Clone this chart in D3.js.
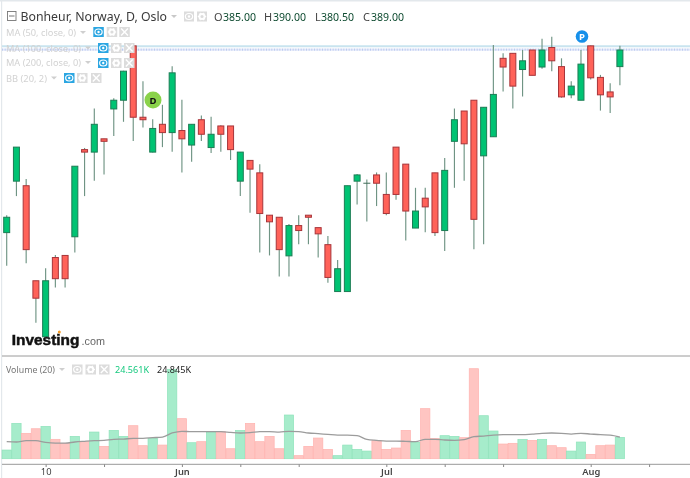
<!DOCTYPE html>
<html><head><meta charset="utf-8">
<script src="https://cdn.jsdelivr.net/npm/d3@7/dist/d3.min.js"></script>
<style>html,body{margin:0;padding:0;background:#fff;overflow:hidden}svg{display:block;filter:blur(0.3px)}</style>
</head><body><svg id="c" width="690" height="478"></svg>
<script>
const opens =[345,357.4,356.3,333.4,319.9,339,339.5,344,365,364.4,367.6,374.8,376.9,390,372.8,364.4,371.1,369.1,369.6,366.1,372.2,365.5,370.7,370.7,357.4,362.4,359.4,349.2,348.7,339.4,346.7,349.2,346.2,342.1,330.8,330.8,357.4,356.9,358.9,354.2,365.6,361.5,346.1,353.3,359.4,345.5,367,374.3,376.9,363.5,368.1,387,388.2,384.3,389,384.9,389.6,385,378.2,376.9,390,382.4,378.9,385];
const highs =[349.2,365.6,357.9,333.4,336.4,339.6,339.6,361,365.4,374.9,367.6,377.4,384,390.1,381.5,372.3,375.8,385.1,377,371.1,373.2,372.9,370.9,370.7,364.4,362.5,361.5,349.2,348.7,347.1,349.2,349.2,346.2,344.2,338.4,356.3,359.1,357.8,359.5,359.5,365.6,361.5,355.8,355.8,359.4,363,374.9,374.3,376.9,375.2,390.2,388.2,388.2,389,389,391.7,392.2,387,381.5,389,390.1,383,381,390];
const lows  =[337,353.8,337.6,323.3,319.9,331.8,331.8,340.2,353.8,357.5,359,368.3,371.7,367.1,370.3,364.3,365.6,364.5,359.5,362.1,367.1,364.2,364.5,362.5,353.8,349.8,340.2,339.5,334.4,334.4,342.2,342.2,339,332.9,330.8,330.8,351.8,347.7,351.4,349.2,352.9,343.1,346.1,345.1,344.2,340.6,355.8,357.5,341,342.2,368.1,379,374.9,377.8,382.9,384.5,383.9,377.5,377.4,376.9,381.9,374.4,373.8,380.5];
const closes=[348.7,365.6,340.9,329.2,333.4,333.9,333.9,361,364.4,371.1,367,376.9,383.9,372.8,372.2,370.1,369.1,383.5,367.6,371.1,368.7,368.7,368.7,365,364.4,360.3,349.6,347.6,340.9,346.7,345.5,348.7,344.7,334.2,336.3,356.3,358.9,356.9,356.9,349.6,354.2,350.2,350.2,351.2,345,360,372.2,366.4,348.2,375.2,378.3,384.9,380.3,386.4,382.9,389,386.4,377.7,380.3,385.6,382.3,378.2,377.7,389];
const volumes=[10,40.7,29.2,34.5,37.2,22.3,17.7,25.7,19.6,30.7,14.2,32.6,25.7,38,15,23.4,15.7,102.9,46.1,18.4,19.6,30.3,31.1,11.5,32.6,40.7,19.6,25.7,11.5,50.3,3.5,14.2,23.8,10.7,3.5,15.7,10.7,8.8,20.7,10.7,12.3,32.6,18.8,57.6,23.4,26.5,25.7,24.2,103.6,49.5,31.9,16.9,17.7,22.3,21.1,22.3,15,12.7,8.8,19.2,5,15,15.7,24.56];
const volumeMA=[19.6,19.2,20.7,20.7,18.8,18,18,19.2,20,20.7,21.1,22.3,22.6,23.4,23.4,24.2,24.9,29.6,31.5,31.1,31.1,31.1,31.1,30.3,29.6,29.9,31.1,31.1,30.7,31.5,31.1,29.6,28.8,28,27.2,27.2,26.5,22.3,21.1,20.3,20.3,20,19.6,22.3,22.3,21.5,21.1,21.9,25.3,26.1,27.2,27.6,27.6,27.6,28.4,29.2,29.6,29.2,28.4,29.2,28.4,27.6,27.2,24.85];
const tickIndex=[4,10,18,24,30,39,45,51,60,66];
const tickLabels=["10","","Jun","","","Jul","","","Aug",""];
const refLevels=[390,389.2];
const indicatorNames=["MA (50, close, 0)","MA (100, close, 0)","MA (200, close, 0)","BB (20, 2)"];

const svg=d3.select("#c");
const sans='"Noto Sans",sans-serif';
const x=d3.scaleLinear().domain([0,63]).range([6.7,619.9]);
const y=d3.scaleLinear().domain([401.05,315.27]).range([0,356]);
const yV=d3.scaleLinear().domain([0,103.6]).range([458.7,368.7]);
const GREEN="#00c373",RED="#ff6259",GEDGE="#1c7d55",REDGE="#a8353a",WICK="#6f9484";

// frame
svg.append("rect").attr("x",0).attr("y",0).attr("width",690).attr("height",1.5).attr("fill","#e3e8ec");
svg.append("rect").attr("x",1).attr("y",0).attr("width",1.2).attr("height",478).attr("fill","#e3e8ec");

// reference lines
svg.append("line").attr("x1",2).attr("x2",690).attr("y1",y(refLevels[0])+0.4).attr("y2",y(refLevels[0])+0.4).attr("stroke","#c9e4ef").attr("stroke-width",2);
svg.append("line").attr("x1",2).attr("x2",690).attr("y1",y(refLevels[1])+0.4).attr("y2",y(refLevels[1])+0.4).attr("stroke","#bccaf0").attr("stroke-width",2.2).attr("stroke-dasharray","1 0.6");

// candles
const idx=d3.range(opens.length);
svg.append("g").selectAll("line").data(idx).join("line")
 .attr("x1",i=>x(i)).attr("x2",i=>x(i))
 .attr("y1",i=>y(highs[i])).attr("y2",i=>y(lows[i]))
 .attr("stroke",WICK).attr("stroke-width",1.15);
const bw=6;
svg.append("g").selectAll("rect").data(idx.filter(i=>Math.abs(opens[i]-closes[i])>0.01)).join("rect")
 .attr("x",i=>x(i)-bw/2)
 .attr("y",i=>y(Math.max(opens[i],closes[i])))
 .attr("width",bw)
 .attr("height",i=>Math.abs(y(opens[i])-y(closes[i])))
 .attr("fill",i=>closes[i]>=opens[i]?GREEN:RED)
 .attr("stroke",i=>closes[i]>=opens[i]?GEDGE:REDGE).attr("stroke-width",1);
svg.append("g").selectAll("line").data(idx.filter(i=>Math.abs(opens[i]-closes[i])<=0.01)).join("line")
 .attr("x1",i=>x(i)-3.5).attr("x2",i=>x(i)+3.5)
 .attr("y1",i=>y(opens[i])).attr("y2",i=>y(opens[i])).attr("stroke","#3f6b58");

// pins
svg.append("circle").attr("cx",153).attr("cy",100).attr("r",8.5).attr("fill","#8ad24a");
svg.append("text").attr("x",153).attr("y",103.5).attr("text-anchor","middle").attr("font-family",sans).attr("font-weight",700).attr("font-size",9.5).attr("fill","#111").text("D");
svg.append("circle").attr("cx",582).attr("cy",36.5).attr("r",6.3).attr("fill","#1690ea");
svg.append("text").attr("x",582).attr("y",40).attr("text-anchor","middle").attr("font-family",sans).attr("font-weight",700).attr("font-size",9.5).attr("fill","#fff").text("P");

// icon helper
function icon(g,ix,iy,w,kind,bg){
 g.append("rect").attr("x",ix).attr("y",iy).attr("width",w).attr("height",10).attr("fill",bg);
 const cx=ix+w/2,cy=iy+5;
 if(kind==="eye"){
  g.append("ellipse").attr("cx",cx).attr("cy",cy).attr("rx",3.6).attr("ry",3).attr("fill","none").attr("stroke","#fff").attr("stroke-width",1.2);
  g.append("circle").attr("cx",cx).attr("cy",cy).attr("r",1.2).attr("fill","#fff");
 } else if(kind==="gear"){
  g.append("circle").attr("cx",cx).attr("cy",cy).attr("r",2.6).attr("fill","none").attr("stroke","#fff").attr("stroke-width",2);
  d3.range(6).forEach(k=>{const a=k*Math.PI/3;
   g.append("line").attr("x1",cx+2.8*Math.cos(a)).attr("y1",cy+2.8*Math.sin(a)).attr("x2",cx+4.2*Math.cos(a)).attr("y2",cy+4.2*Math.sin(a)).attr("stroke","#fff").attr("stroke-width",1.2);});
 } else {
  g.append("path").attr("d",`M${cx-3.4},${cy-3.4}L${cx+3.4},${cy+3.4}M${cx+3.4},${cy-3.4}L${cx-3.4},${cy+3.4}`).attr("stroke","#fff").attr("stroke-width",1.4);
 }
}
function tri(g,tx,ty,col){g.append("path").attr("d",`M${tx},${ty}h6l-3,3z`).attr("fill",col);}
function label(g,tx,ty,size,col,str,len){
 const t=g.append("text").attr("x",tx).attr("y",ty).attr("font-family",sans).attr("font-size",size).attr("fill",col).text(str);
 if(len) t.attr("textLength",len).attr("lengthAdjust","spacingAndGlyphs");
 return t;
}

// header
const h=svg.append("g");
h.append("rect").attr("x",7.5).attr("y",11.5).attr("width",8.5).attr("height",9).attr("fill","none").attr("stroke","#777").attr("stroke-width",0.9);
h.append("line").attr("x1",9).attr("x2",14.5).attr("y1",16).attr("y2",16).attr("stroke","#777");
label(h,20.5,20.8,13,"#3a3a3a","Bonheur, Norway, D, Oslo",146.5);
tri(h,171,15,"#c8c8c8");
icon(h,184,11.5,10,"eye","#dcdcdc");icon(h,197,11.5,10,"gear","#dcdcdc");
const ohlc=[["O",214,"385.00",223],["H",264,"390.00",273],["L",315,"380.50",321],["C",363,"389.00",371]];
ohlc.forEach(d=>{
 label(h,d[1],20.5,11,"#444",d[0]);
 label(h,d[3],20.5,11,"#0e4b30",d[2],33);
});

// indicator rows
const rowY=[36,51.5,66,81.5],rowW=[70,75,75,41],triX=[80,85,85,51],iconX=[[93.3,106.7,119.3],[98,111,124],[98,111,124],[64,77,91]];
indicatorNames.forEach((n,k)=>{
 const g=svg.append("g");
 label(g,6,rowY[k],9.8,"#d2d2d2",n,rowW[k]);
 tri(g,triX[k],rowY[k]-5,"#cfcfcf");
 const iy=[27,43,58,73][k];
 icon(g,iconX[k][0],iy,10.5,"eye","#2ba6e2");
 icon(g,iconX[k][1],iy,10.5,"gear","#dcdcdc");
 icon(g,iconX[k][2],iy,10.5,"x","#dcdcdc");
});

// logo
const lg=svg.append("g");
lg.append("text").attr("x",11.8).attr("y",344.6).attr("font-family",'"Liberation Sans",Arial,sans-serif').attr("font-weight",700).attr("font-size",15.4).attr("stroke","#111").attr("stroke-width",0.5).attr("fill","#111").text("Investing");
lg.append("text").attr("x",81.5).attr("y",344.6).attr("font-family",'"Liberation Sans",Arial,sans-serif').attr("font-size",10.8).attr("fill","#666").text(".com");
lg.append("circle").attr("cx",59.3).attr("cy",332).attr("r",1.5).attr("fill","#f59a23");

// pane divider
svg.append("line").attr("x1",2).attr("x2",690).attr("y1",356).attr("y2",356).attr("stroke","#9a9a9a").attr("stroke-width",1);

// volume
const vw=x(1)-x(0);
svg.append("g").selectAll("rect").data(idx).join("rect")
 .attr("x",i=>x(i)-vw/2+0.2).attr("y",i=>yV(volumes[i]))
 .attr("width",vw-0.4).attr("height",i=>yV(0)-yV(volumes[i]))
 .attr("fill",i=>closes[i]>=opens[i]?"#a6eccb":"#ffc5c2")
 .attr("stroke",i=>closes[i]>=opens[i]?"#8fe3bb":"#ffb3af").attr("stroke-width",0.7);
svg.append("path").attr("d",d3.line().x(i=>x(i)).y(i=>yV(volumeMA[i])).curve(d3.curveMonotoneX)(idx))
 .attr("fill","none").attr("stroke","#9c9c9c").attr("stroke-width",1.3);

// volume legend
const vg=svg.append("g");
label(vg,6,373,9.8,"#777","Volume (20)",49);
tri(vg,59,368,"#cfcfcf");
icon(vg,72,364.5,10.5,"eye","#dcdcdc");icon(vg,85.5,364.5,10.5,"gear","#dcdcdc");icon(vg,99,364.5,10.5,"x","#dcdcdc");
label(vg,115,373,9.8,"#16c97f","24.561K",34);
label(vg,157,373,9.8,"#222","24.845K",34);

// time axis
const ax=svg.append("g").attr("transform","translate(0,464)").call(
 d3.axisBottom(x).tickValues(tickIndex).tickSize(3).tickSizeOuter(0).tickFormat((d,i)=>tickLabels[i]));
ax.select(".domain").remove();
ax.selectAll("line").attr("stroke","#888");
ax.selectAll("text").attr("font-family",sans).attr("font-size",9.3).attr("fill","#444").attr("y",11).attr("dy",0).attr("font-weight",(d,i)=>tickLabels[i]==="10"?400:600);
svg.append("line").attr("x1",2).attr("x2",690).attr("y1",464.3).attr("y2",464.3).attr("stroke","#999").attr("stroke-width",1);
</script></body></html>
